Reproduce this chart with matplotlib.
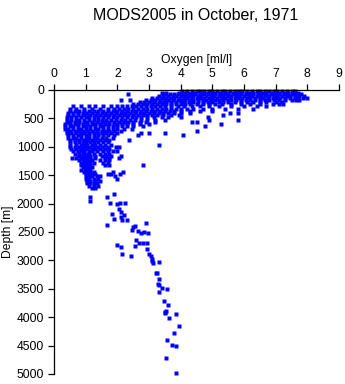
import numpy as np
import matplotlib
matplotlib.use("Agg")
import matplotlib.pyplot as plt

plt.rcParams['font.family'] = ['Liberation Sans', 'DejaVu Sans']

# oxygen values [ml/l], grouped by depth row [m]
surface_rows = [
    (15, [4.05, 4.2, 4.35, 4.5, 4.6, 4.75, 4.9, 5.0, 5.15, 5.3, 5.4, 5.55, 5.7, 5.85, 5.95, 6.1, 6.25, 6.4, 6.5, 6.65, 6.8, 6.95, 7.05, 7.2, 7.35, 7.5, 7.6]),
    (45, [3.4, 3.55, 3.95, 4.1, 4.2, 4.35, 4.45, 4.6, 4.75, 4.85, 5.0, 5.1, 5.25, 5.4, 5.5, 5.65, 5.8, 5.9, 6.05, 6.2, 6.3, 6.45, 6.6, 6.7, 6.85, 7.0, 7.1, 7.25, 7.4, 7.55, 7.7]),
    (75, [2.35, 3.5, 3.65, 3.8, 3.9, 4.05, 4.2, 4.3, 4.45, 4.6, 4.7, 4.85, 5.0, 5.1, 5.25, 5.35, 5.5, 5.65, 5.75, 5.9, 6.05, 6.15, 6.3, 6.45, 6.55, 6.7, 6.85, 6.95, 7.1, 7.25, 7.35, 7.5, 7.65, 7.8]),
    (110, [3.3, 3.45, 3.6, 3.75, 3.85, 4.0, 4.15, 4.25, 4.4, 4.55, 4.65, 4.8, 4.95, 5.05, 5.2, 5.35, 5.45, 5.6, 5.75, 5.85, 6.0, 6.15, 6.25, 6.4, 6.55, 6.65, 6.8, 6.95, 7.05, 7.2, 7.35, 7.45, 7.6, 7.75, 7.9]),
    (145, [3.1, 3.25, 3.4, 3.55, 3.7, 3.8, 3.95, 4.1, 4.2, 4.35, 4.5, 4.6, 4.75, 4.9, 5.0, 5.15, 5.3, 5.4, 5.55, 5.7, 5.8, 5.95, 6.1, 6.2, 6.35, 6.5, 6.6, 6.75, 6.9, 7.0, 7.15, 7.3, 7.45, 7.6, 7.7, 7.85, 8.0]),
    (180, [2.1, 2.4, 2.9, 3.05, 3.2, 3.35, 3.5, 3.6, 3.75, 3.9, 4.0, 4.15, 4.3, 4.4, 4.55, 4.7, 4.8, 4.95, 5.1, 5.2, 5.35, 5.5, 5.6, 5.75, 5.9, 6.05, 6.2, 6.35, 6.5, 6.65, 6.8, 6.95, 7.1, 7.3, 7.5, 7.65, 7.75]),
    (215, [2.7, 2.85, 3.0, 3.15, 3.3, 3.45, 3.55, 3.7, 3.85, 4.0, 4.1, 4.25, 4.4, 4.55, 4.7, 4.85, 5.0, 5.2, 5.35, 5.5, 5.7, 5.9, 6.1, 6.3, 6.5, 6.7, 7.0, 7.2]),
    (250, [2.5, 2.65, 2.8, 2.95, 3.1, 3.25, 3.4, 3.55, 3.7, 3.85, 4.0, 4.15, 4.3, 4.5, 4.7, 4.9, 5.1, 5.3, 5.6, 5.9, 6.2, 6.5, 6.9, 7.1, 7.22]),
]

band_rows = [
    (290, [0.6, 0.85, 1.1, 1.3, 1.55, 1.8, 2.0, 2.15, 2.3, 2.45, 2.6, 2.75, 2.9, 3.05, 3.2, 3.35, 3.5, 3.7, 3.9, 4.1, 4.35, 4.6, 4.9, 5.2, 5.6, 6.0, 6.4, 6.7]),
    (330, [0.5, 0.7, 0.95, 1.2, 1.45, 1.7, 1.9, 2.05, 2.2, 2.35, 2.5, 2.65, 2.8, 2.95, 3.1, 3.25, 3.4, 3.55, 3.7, 3.85, 4.0, 4.2, 4.4, 4.7, 5.0, 5.4, 5.8, 6.3]),
    (365, [0.5, 0.65, 0.8, 0.95, 1.1, 1.25, 1.4, 1.55, 1.7, 1.85, 2.0, 2.15, 2.3, 2.45, 2.6, 2.75, 2.9, 3.05, 3.2, 3.35, 3.5, 3.65, 3.8, 4.0, 4.3, 4.6, 5.0]),
    (400, [0.45, 0.6, 0.75, 0.9, 1.05, 1.2, 1.35, 1.5, 1.65, 1.8, 1.95, 2.1, 2.25, 2.4, 2.55, 2.7, 2.85, 3.0, 3.15, 3.3, 3.45, 3.6, 3.8, 4.0, 4.3, 5.55, 5.8]),
    (440, [0.45, 0.6, 0.75, 0.9, 1.0, 1.15, 1.3, 1.45, 1.6, 1.75, 1.9, 2.05, 2.2, 2.35, 2.5, 2.65, 2.8, 2.95, 3.1, 3.25, 3.45, 3.7, 3.95, 5.35]),
    (480, [0.4, 0.55, 0.7, 0.85, 1.0, 1.1, 1.25, 1.4, 1.55, 1.7, 1.85, 2.0, 2.15, 2.3, 2.45, 2.6, 2.75, 2.95, 3.15, 3.4, 3.6, 4.0, 4.85]),
    (520, [0.4, 0.55, 0.7, 0.8, 0.95, 1.1, 1.25, 1.4, 1.5, 1.65, 1.8, 1.95, 2.1, 2.25, 2.4, 2.55, 2.75, 2.95, 3.2, 3.5, 4.9, 5.8]),
    (560, [0.4, 0.5, 0.65, 0.8, 0.95, 1.05, 1.2, 1.35, 1.5, 1.6, 1.75, 1.9, 2.05, 2.2, 2.35, 2.5, 2.7, 2.9, 3.2, 4.35, 4.5]),
    (600, [0.35, 0.5, 0.65, 0.75, 0.9, 1.05, 1.2, 1.3, 1.45, 1.6, 1.75, 1.9, 2.0, 2.15, 2.3, 2.5, 2.7, 3.0, 5.27]),
    (640, [0.35, 0.5, 0.6, 0.75, 0.9, 1.0, 1.15, 1.3, 1.45, 1.55, 1.7, 1.85, 2.0, 2.15, 2.3, 2.5, 2.8, 4.77]),
    (680, [0.35, 0.45, 0.6, 0.75, 0.85, 1.0, 1.15, 1.3, 1.4, 1.55, 1.7, 1.85, 2.0, 2.2, 2.45]),
    (720, [0.4, 0.5, 0.65, 0.8, 0.9, 1.05, 1.2, 1.35, 1.5, 1.6, 1.75, 1.9, 2.1, 4.5]),
    (760, [0.4, 0.55, 0.7, 0.85, 0.95, 1.1, 1.25, 1.4, 1.5, 1.65, 1.8, 2.0, 2.75, 3.0, 3.5]),
    (800, [0.45, 0.6, 0.75, 0.85, 1.0, 1.1, 1.25, 1.4, 1.55, 1.7, 1.9, 2.66, 4.08]),
]

# oxygen minimum layer, 800-1700 m
core_rows = [
    (840, [0.45, 0.6, 0.7, 0.85, 1.0, 1.1, 1.25, 1.35, 1.5, 1.65, 1.85]),
    (880, [0.5, 0.65, 0.8, 0.95, 1.05, 1.2, 1.3, 1.45, 1.6, 1.75, 2.37]),
    (920, [0.5, 0.65, 0.8, 0.9, 1.0, 1.15, 1.25, 1.4, 1.55, 1.7]),
    (960, [0.5, 0.7, 0.85, 0.95, 1.05, 1.2, 1.3, 1.45, 1.6, 1.8, 3.33]),
    (1000, [0.5, 0.65, 0.8, 0.9, 1.0, 1.1, 1.25, 1.4, 1.55, 1.7, 1.95, 2.05]),
    (1040, [0.55, 0.7, 0.85, 0.95, 1.05, 1.2, 1.3, 1.45, 1.6, 1.75]),
    (1080, [0.6, 0.75, 0.85, 0.95, 1.1, 1.2, 1.35, 1.55, 1.7, 1.85, 2.0]),
    (1120, [0.65, 0.8, 0.9, 1.0, 1.1, 1.25, 1.45, 1.6, 1.75]),
    (1160, [0.75, 0.85, 0.95, 1.05, 1.15, 1.3, 1.5, 1.65, 1.8, 2.1]),
    (1200, [0.58, 0.69, 0.85, 0.95, 1.05, 1.15, 1.3, 1.6, 1.75, 2.05]),
    (1240, [0.8, 0.9, 1.0, 1.1, 1.2, 1.45, 1.6, 1.75]),
    (1280, [0.85, 0.95, 1.05, 1.15, 1.25, 1.55, 1.7]),
    (1320, [0.85, 0.95, 1.05, 1.15, 1.6, 1.75, 2.82]),
    (1360, [0.9, 1.0, 1.1, 1.2]),
    (1400, [0.84, 0.98, 1.05, 1.15]),
    (1440, [0.95, 1.05, 1.15, 1.25, 1.85, 2.17]),
    (1480, [1.0, 1.1, 1.2, 1.3, 1.7, 1.8, 2.07]),
    (1520, [1.0, 1.1, 1.2, 1.35, 1.45, 1.93]),
    (1560, [1.0, 1.1, 1.25, 1.4, 1.98]),
    (1600, [1.05, 1.15, 1.3, 1.45]),
    (1640, [1.05, 1.15, 1.25, 1.35]),
    (1690, [1.1, 1.25, 1.4]),
    (1720, [1.2, 1.3]),
]

# sparse deep casts
deep_oxygen = [1.14, 1.14, 1.68, 1.9, 1.77, 1.98, 2.08, 2.24, 2.06, 2.1, 2.2,
               1.82, 1.9, 2.1, 2.15, 2.3, 1.68, 2.9, 2.56, 2.5, 2.45, 2.65,
               2.75, 2.85, 2.97, 2.6, 2.68, 2.8, 2.93, 1.99, 2.1, 2.55, 2.95,
               2.16, 2.42, 3.01, 3.05, 3.08, 3.1, 3.14, 3.33, 3.21, 3.26, 3.33,
               3.28, 3.32, 3.4, 3.33, 3.58, 3.48, 3.59, 3.5, 3.55, 3.49, 3.84,
               3.64, 3.96, 3.79, 3.58, 3.74, 3.84, 3.54, 3.84]
deep_depth = [1880, 1950, 1880, 1830, 1990, 2000, 1990, 1990, 2100, 2150, 2200,
              2180, 2270, 2230, 2290, 2280, 2380, 2340, 2390, 2420, 2460, 2490,
              2510, 2500, 2520, 2640, 2700, 2690, 2700, 2730, 2760, 2740, 2800,
              2890, 2920, 2890, 2930, 2970, 3010, 3050, 3020, 3215, 3215, 3320,
              3420, 3440, 3480, 3560, 3510, 3715, 3785, 3905, 3890, 3920, 3950,
              4020, 4155, 4270, 4400, 4490, 4510, 4710, 4990]

xticks = list(range(0, 10))
yticks = list(range(0, 5001, 500))

oxygen = []
depth = []
for rows in (surface_rows, band_rows, core_rows):
    for d, vals in rows:
        oxygen += vals
        depth += [d] * len(vals)
oxygen += deep_oxygen
depth += deep_depth

fig = plt.figure(figsize=(3.45, 3.84), dpi=100)
ax = fig.add_axes([54/345, 1 - 374/384, (339 - 54)/345, (374 - 90)/384])

ax.plot(oxygen, depth, 's', ms=2.9, color='#0000ff', mec='none', clip_on=False)

ax.set_xlim(0, 9)
ax.set_ylim(5000, 0)
ax.set_xticks(xticks)
ax.set_yticks(yticks)
ax.xaxis.tick_top()
ax.xaxis.set_label_position('top')
ax.spines['right'].set_visible(False)
ax.spines['bottom'].set_visible(False)
ax.spines['left'].set_linewidth(0.9)
ax.spines['top'].set_linewidth(0.9)
ax.tick_params(direction='out', length=4, width=0.9, labelsize=8.7, pad=3)
ax.set_xlabel('Oxygen [ml/l]', fontsize=8.7, labelpad=4)
ax.set_ylabel('Depth [m]', fontsize=8.7, labelpad=2)

fig.text(196/345, 1 - 15/384, 'MODS2005 in October, 1971', ha='center', va='center', fontsize=11.5)

fig.savefig('out.png', dpi=100)
